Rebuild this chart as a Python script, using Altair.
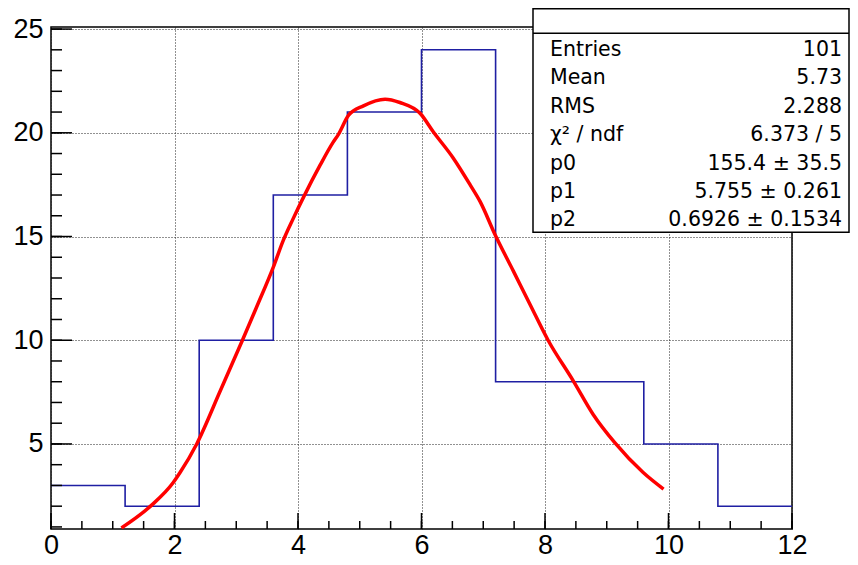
import altair as alt
import pandas as pd

# Histogram (10 bins from 0 to 12)
bin_edges = [0.0, 1.2, 2.4, 3.6, 4.8, 6.0, 7.2, 8.4, 9.6, 10.8, 12.0]
bin_counts = [3, 2, 10, 17, 21, 24, 8, 8, 5, 2]

# Fit curve, points
fit_x = [1.14, 1.63, 1.98, 2.09, 2.36, 2.74, 3.10, 3.33, 3.61, 3.76, 3.92, 4.09,
         4.36, 4.57, 4.65, 4.82, 5.06, 5.41, 5.65, 5.98, 6.19, 6.51, 6.79, 6.95,
         7.19, 7.49, 7.76, 8.05, 8.46, 8.78, 9.13, 9.59, 9.92]
fit_y = [0.95, 2.05, 3.14, 3.62, 5.0, 7.55, 10.0, 11.6, 13.6, 14.8, 15.85, 16.9,
         18.45, 19.55, 19.9, 20.85, 21.3, 21.62, 21.46, 20.93, 20.05, 18.8, 17.48, 16.68,
         15.1, 13.32, 11.71, 10.0, 8.03, 6.42, 5.06, 3.62, 2.82]

x_major = [0, 2, 4, 6, 8, 10, 12]
x_minor = [0, 0.5, 1, 1.5, 2, 2.5, 3, 3.5, 4, 4.5, 5, 5.5, 6, 6.5, 7, 7.5, 8, 8.5,
           9, 9.5, 10, 10.5, 11, 11.5, 12]
y_major = [5, 10, 15, 20, 25]
y_minor = [1, 2, 3, 4, 5, 6, 7, 8, 9, 10, 11, 12, 13, 14, 15, 16, 17, 18, 19, 20,
           21, 22, 23, 24, 25]

stat_labels = ["Entries", "Mean", "RMS", "χ² / ndf", "p0", "p1", "p2"]
stat_values = ["101", "5.73", "2.288", "6.373 / 5", "155.4 ± 35.5",
               "5.755 ± 0.261", "0.6926 ± 0.1534"]

FONT = "Liberation Sans"
STAT_FONT = "DejaVu Sans"
W, H = 741, 502

xs = alt.Scale(domain=[0, 12], nice=False, zero=False)
ys = alt.Scale(domain=[0.9, 25.1], nice=False, zero=False)

ax_x = alt.Axis(values=x_major, grid=True, gridDash=[1, 2], gridColor="#222222",
                gridWidth=1, tickSize=0, domain=False, labelFontSize=27,
                labelFont=FONT, labelColor="black", labelPadding=3,
                labelFlush=False, format="d")
ax_y = alt.Axis(values=y_major, grid=True, gridDash=[1, 2], gridColor="#222222",
                gridWidth=1, tickSize=0, domain=False, labelFontSize=27,
                labelFont=FONT, labelColor="black", labelPadding=8,
                labelFlush=False, format="d")

hist_df = pd.DataFrame({"x": bin_edges, "y": bin_counts + [bin_counts[-1]]})
hist = alt.Chart(hist_df).mark_line(
    interpolate="step-after", color="#1f1fa3", strokeWidth=1.6, clip=True
).encode(
    x=alt.X("x:Q", scale=xs, axis=ax_x, title=None),
    y=alt.Y("y:Q", scale=ys, axis=ax_y, title=None),
)

fit_df = pd.DataFrame({"x": fit_x, "y": fit_y})
fit = alt.Chart(fit_df).mark_line(
    color="#ff0000", strokeWidth=3.5, clip=True, interpolate="monotone"
).encode(x=alt.X("x:Q", title=None), y=alt.Y("y:Q", title=None))

ymaj = alt.Chart(pd.DataFrame({"v": y_major})).mark_rule(color="black", strokeWidth=1.5).encode(
    y=alt.Y("v:Q", title=None), x=alt.value(0), x2=alt.value(21))
ymin = alt.Chart(pd.DataFrame({"v": y_minor})).mark_rule(color="black", strokeWidth=1.5).encode(
    y=alt.Y("v:Q", title=None), x=alt.value(0), x2=alt.value(11))
xmaj = alt.Chart(pd.DataFrame({"v": x_major})).mark_rule(color="black", strokeWidth=1.5).encode(
    x=alt.X("v:Q", title=None), y=alt.value(H), y2=alt.value(H - 16))
xmin = alt.Chart(pd.DataFrame({"v": x_minor})).mark_rule(color="black", strokeWidth=1.5).encode(
    x=alt.X("v:Q", title=None), y=alt.value(H), y2=alt.value(H - 8))

main = alt.layer(hist, fit, ymin, ymaj, xmin, xmaj)

# Stats box
one = pd.DataFrame({"a": [0]})
box = alt.Chart(one).mark_rect(fill="white", stroke="black", strokeWidth=1.5).encode(
    x=alt.value(482), x2=alt.value(798), y=alt.value(-18.3), y2=alt.value(205.3))
sep = alt.Chart(one).mark_rule(color="black", strokeWidth=1.5).encode(
    x=alt.value(482), x2=alt.value(798), y=alt.value(6.3))

stats_df = pd.DataFrame({"label": stat_labels, "value": stat_values,
                         "row": list(range(len(stat_labels)))})
lab = alt.Chart(stats_df).transform_calculate(py="29 + datum.row * 28.4").mark_text(
    align="left", baseline="alphabetic", font=STAT_FONT, fontSize=20.5, color="black"
).encode(x=alt.value(499), y=alt.Y("py:Q", scale=None, axis=None), text="label:N")
val = alt.Chart(stats_df).transform_calculate(py="29 + datum.row * 28.4").mark_text(
    align="right", baseline="alphabetic", font=STAT_FONT, fontSize=20.5, color="black"
).encode(x=alt.value(791), y=alt.Y("py:Q", scale=None, axis=None), text="value:N")

stats = alt.layer(box, sep, lab, val)

chart = alt.layer(main, stats).resolve_scale(y="independent").properties(
    width=W, height=H,
    autosize=alt.AutoSizeParams(type="none"),
    padding={"left": 43, "top": 19, "right": 58, "bottom": 26},
    background="white",
).configure_view(stroke="black", strokeWidth=1.5)

chart.save("out.html", embed_options={"renderer": "svg", "actions": False})
